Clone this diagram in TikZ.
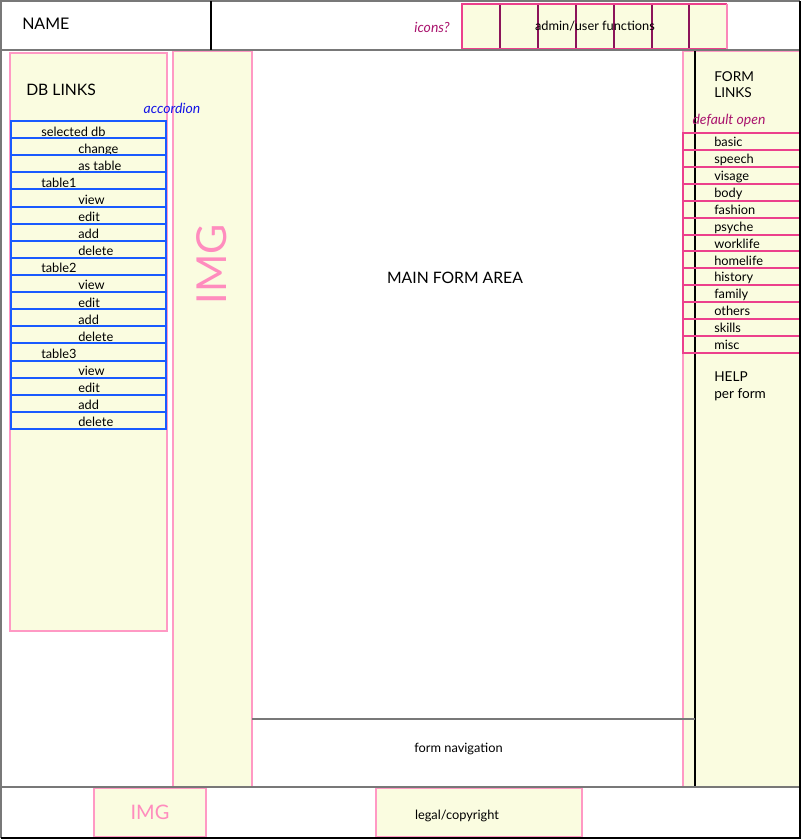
\documentclass[tikz,border=0pt]{standalone}
\usepackage{fontspec}
\setmainfont{Lato}
\definecolor{pale}{RGB}{250,252,224}
\definecolor{pinkb}{RGB}{255,153,196}
\definecolor{hotpink}{RGB}{236,64,140}
\definecolor{plum}{RGB}{140,20,90}
\definecolor{blueb}{RGB}{25,90,255}
\definecolor{scriptmag}{RGB}{170,20,110}
\definecolor{scriptblue}{RGB}{20,20,230}
\definecolor{framegray}{RGB}{120,120,120}
\definecolor{imgpink}{RGB}{255,140,190}
\tikzset{
  panel/.style={fill=pale, draw=pinkb, line width=1.1pt},
  txt/.style={inner sep=0pt, text=black},
  small/.style={txt, font=\fontsize{9.6}{11}\selectfont},
  mid/.style={txt, font=\fontsize{10.2}{12}\selectfont},
  big/.style={txt, font=\fontsize{11.8}{13}\selectfont},
  hand/.style={inner sep=0pt, font=\fontsize{10.5}{12}\selectfont\itshape},
  frameline/.style={framegray, line width=1.1pt},
}
\begin{document}
\begin{tikzpicture}[x=0.75pt,y=-0.75pt]
\useasboundingbox (0,0) rectangle (803,840);
\fill[white] (0,0) rectangle (803,840);

% ---- panels
\draw[panel] (10,53) rectangle (167,631);
\draw[panel] (173,51) rectangle (252,787);
\draw[panel] (683,51) rectangle (800,787);
\draw[panel] (94,788) rectangle (206,837);
\draw[panel] (376,788) rectangle (582,837);

% ---- icon bar
\fill[pale] (462,4) rectangle (727,49);
\foreach \x in {500,538,576,614,652,689}
  \draw[plum, line width=0.9pt] (\x,4) -- (\x,49);
\draw[hotpink, line width=1.2pt] (727,4) -- (462,4) -- (462,49) -- (727,49);
\draw[pinkb!80!hotpink, line width=1.2pt] (727,4) -- (727,49);
\node[small] (admin) at (595,26) {admin/user functions};
\node[hand, text=scriptmag] (icons) at (432,27) {icons?};

% ---- header
\node[txt, anchor=west, font=\fontsize{12}{14}\selectfont] (name) at (22,24) {NAME};

% ---- DB links
\node[big, anchor=base west] (dblinks) at (26,95.5) {DB LINKS};
\node[hand, text=scriptblue] (accordion) at (172,108) {accordion};
\foreach \t/\ind [count=\i from 0] in {selected db/0,change/1,as table/1,table1/0,view/1,edit/1,add/1,delete/1,table2/0,view/1,edit/1,add/1,delete/1,table3/0,view/1,edit/1,add/1,delete/1}{
  \pgfmathsetmacro\yy{121+\i*17.11}
  \draw[blueb, line width=1.5pt] (11,\yy) rectangle (166,\yy+17.11);
  \node[small, anchor=base west] (db\i) at ({41+37*\ind},\yy+15) {\t};
}

% ---- IMG vertical
\node[inner sep=0pt, text=imgpink, rotate=90, font=\fontsize{31}{33}\selectfont] (imgv) at (212,264) {IMG};

% ---- right panel
\draw[black, line width=0.9pt] (695,50) -- (695,787);
\node[mid, anchor=base west] (formlinks) at (714,81) {FORM};
\node[mid, anchor=base west] (formlinks2) at (714,97.5) {LINKS};
\node[hand, text=scriptmag] (defopen) at (729,121) {default open};
\foreach \t [count=\i from 0] in {basic,speech,visage,body,fashion,psyche,worklife,homelife,history,family,others,skills,misc}{
  \pgfmathsetmacro\yy{133+\i*16.92}
  \draw[hotpink, line width=1.5pt] (683,\yy) rectangle (800,\yy+16.92);
  \node[small, anchor=base west] (fl\i) at (714,\yy+13.6) {\t};
}
\node[mid, anchor=base west] (help) at (714,381.5) {HELP};
\node[mid, anchor=base west] (perform) at (714,398.5) {per form};

% ---- main
\node[big] (main) at (455,278) {MAIN FORM AREA};
\draw[frameline] (252,719) -- (695,719);
\node[small] (nav) at (458.5,749) {form navigation};

% ---- footer
\node[inner sep=0pt, text=imgpink, font=\fontsize{15}{17}\selectfont] (imgf) at (150,812) {IMG};
\node[small] (legal) at (457,816) {legal/copyright};

% ---- frame
\draw[frameline] (1,838) -- (1,1) -- (800,1);
\draw[frameline] (1,50) -- (800,50);
\draw[frameline] (1,787) -- (800,787);
\draw[black, line width=0.9pt] (211,1) -- (211,50);
\draw[black, line width=1.1pt] (800,1) -- (800,838) -- (1,838);
\end{tikzpicture}
\end{document}
